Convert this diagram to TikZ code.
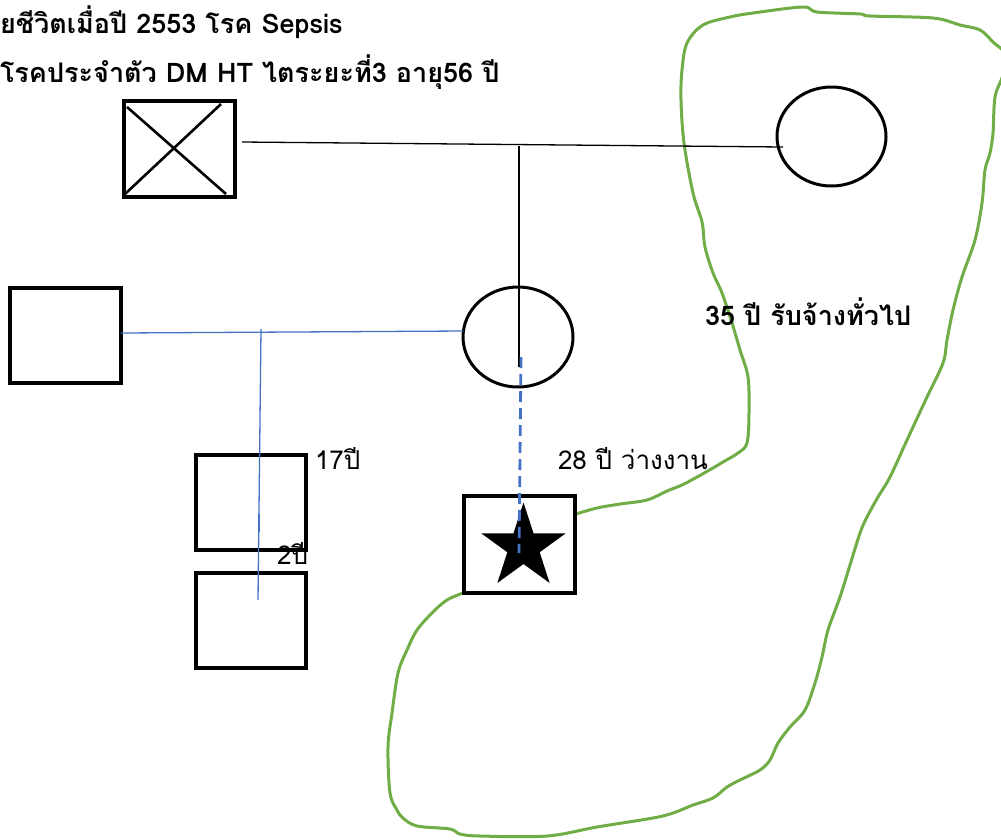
\documentclass[tikz,border=0pt]{standalone}
\usepackage{fontspec}
\setmainfont[Script=Thai]{Loma}
\usetikzlibrary{shapes.geometric}
\definecolor{lineblue}{HTML}{4472C4}
\definecolor{zonegreen}{HTML}{70AD47}
\tikzset{
  person/.style={rectangle, draw=black, line width=3.2pt, fill=white, inner sep=0pt, outer sep=0pt},
  female/.style={ellipse, draw=black, line width=3pt, fill=white, inner sep=0pt, outer sep=0pt},
  kin/.style={draw=black, line width=1.3pt},
  bluekin/.style={draw=lineblue, line width=1.3pt},
  bluedash/.style={draw=lineblue, line width=2.8pt, dash pattern=on 11pt off 6pt},
  zone/.style={draw=zonegreen, line width=3pt, line join=round, line cap=round},
  lbl/.style={anchor=base west, inner sep=0pt, outer sep=0pt, font=\fontsize{26}{30}\selectfont},
  lblb/.style={anchor=base west, inner sep=0pt, outer sep=0pt, font=\bfseries\fontsize{27}{32}\selectfont},
}
\begin{document}
\begin{tikzpicture}[x=1pt, y=-1pt]
\useasboundingbox (0,0) rectangle (1001,839);
\clip (0,0) rectangle (1001,839);

% household boundary
\draw[zone] plot[smooth, tension=0.55] coordinates {
 (576,514) (597,508) (620,504) (647,500) (667,491) (682,485) (697,477)
 (713,468) (723,462) (738,453) (747,443) (749,413) (748,377) (740,350)
 (732,323) (722,293) (713,273) (705,247) (702,222) (693,193) (684,143)
 (681,100) (682,70) (687,43) (703,25) (730,17) (753,13) (803,7) (817,12)
 (860,14) (870,16) (933,18) (960,25) (980,30) (993,42) (1006,55)
 (1003,75) (995,97) (993,133) (990,153) (985,170) (982,203) (975,240)
 (962,277) (953,310) (947,340) (943,363) (927,397) (907,440) (890,477)
 (878,497) (867,517) (860,533) (850,565) (840,597) (828,630) (822,657)
 (815,683) (805,710) (790,727) (778,743) (770,760) (760,770) (740,780)
 (727,787) (713,798) (693,805) (673,813) (653,818) (597,827) (547,836)
 (480,836) (460,834) (450,829) (417,826) (403,818) (397,810) (390,793)
 (388,747) (392,713) (398,673) (407,650) (417,630) (433,612) (447,600)
 (463,593)};

% family members
\node[person, minimum width=111pt, minimum height=96pt] (dec) at (179.5,149) {};
\draw[line width=2.6pt] ([shift={(3,6)}]dec.north west) -- ([shift={(-9,-3)}]dec.south east);
\draw[line width=2.6pt] ([shift={(1,-3)}]dec.south west) -- ([shift={(-14,3)}]dec.north east);
\node[female, minimum width=109pt, minimum height=99pt] (gm) at (831.5,136.5) {};
\node[female, minimum width=110pt, minimum height=100pt] (mo) at (518,337) {};
\node[person, minimum width=111pt, minimum height=95pt] (fa) at (65.5,335.5) {};
\node[person, minimum width=110pt, minimum height=95pt] (c1) at (251,502.5) {};
\node[person, minimum width=110pt, minimum height=95pt] (c2) at (251,620.5) {};
\node[person, minimum width=111pt, minimum height=97pt] (idx) at (519.5,544.5) {};

% connectors
\coordinate (marL) at (242,142);
\coordinate (marR) at (783,147);
\coordinate (dropTop) at (519,146);
\coordinate (dropEnd) at (519,367);
\draw[kin] (marL) -- (marR);
\draw[kin] (dropTop) -- (dropEnd);

\draw[bluekin] ([yshift=2.5pt]fa.east) -- ([yshift=6pt]mo.west);
\coordinate (sibTop) at (261,329);
\coordinate (sibEnd) at (258,600);
\draw[bluekin] (sibTop) -- (sibEnd);
\draw[draw=lineblue, line width=2pt] (259,514) -- (259,532);

% index person
\node[star, star points=5, star point ratio=2.618, fill=black, draw=none,
      minimum size=89pt, inner sep=0pt] (st) at (523.5,547) {};
\coordinate (dashTop) at (521,357);
\coordinate (dashEnd) at (519,553);
\draw[bluedash] (dashTop) -- (dashEnd);

% labels
\node[lblb] (note1) at (0,33) {ยชีวิตเมื่อปี 2553 โรค Sepsis};
\node[lblb] (note2) at (0,82) {โรคประจำตัว DM HT ไตระยะที่3 อายุ56 ปี};
\node[lblb] (work35) at (705,325) {35 ปี รับจ้างทั่วไป};
\node[lbl] (age17) at (315,469) {17ปี};
\node[lbl] (age2) at (277,564) {2ปี};
\node[lbl] (work28) at (558,469) {28 ปี ว่างงาน};
\end{tikzpicture}
\end{document}
